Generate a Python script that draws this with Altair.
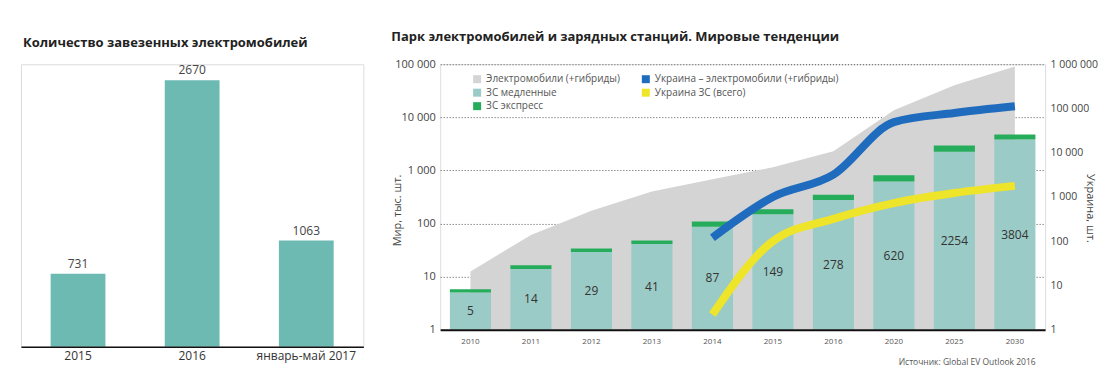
import altair as alt
import pandas as pd

# ---------------- data ----------------
left_cats = ["2015", "2016", "январь-май 2017"]
left_vals = [731, 2670, 1063]

years = ["2010", "2011", "2012", "2013", "2014", "2015", "2016", "2020", "2025", "2030"]
ev_world = [12.5, 61, 175, 400, 680, 1150, 2300, 13600, 40000, 91000]   # тыс. шт.
cs_slow = [5, 14, 29, 41, 87, 149, 278, 620, 2254, 3804]              # тыс. шт.
cs_express = [0.8, 2.3, 5, 7, 22, 37, 70, 190, 690, 930]               # тыс. шт.

ua_years = ["2014", "2015", "2016", "2020", "2025", "2030"]
ua_ev = [120, 1000, 3200, 49000, 79000, 112000]                        # шт.
ua_cs = [2.2, 100, 320, 730, 1230, 1780]                               # шт.

S_EV = "Электромобили (+гибриды)"
S_UA_EV = "Украина – электромобили (+гибриды)"
S_SLOW = "ЗС медленные"
S_UA_CS = "Украина ЗС (всего)"
S_FAST = "ЗС экспресс"

# legend fills column by column: 3 entries in the first column, 2 in the second
series_order = [S_EV, S_SLOW, S_FAST, S_UA_EV, S_UA_CS]
series_colors = ["#d4d4d4", "#9bcbc6", "#25ad5b", "#1f6cbf", "#eee42a"]

FONT = "Open Sans"

# ---------------- left chart ----------------
left_df = pd.DataFrame({"cat": left_cats, "val": left_vals,
                        "lab": [str(v) for v in left_vals]})

lx = alt.X("cat:N", sort=left_cats,
           scale=alt.Scale(paddingInner=0.52, paddingOuter=0.26),
           axis=alt.Axis(title=None, labelAngle=0, ticks=False, labelFontSize=12,
                         labelColor="#333", domainColor="#111", domainWidth=1.5,
                         labelPadding=4, zindex=1))
ly = alt.Y("val:Q", scale=alt.Scale(domain=[0, 2830], nice=False), axis=None)

lbars = alt.Chart(left_df).mark_bar(color="#6dbab2").encode(x=lx, y=ly)
ltext = alt.Chart(left_df).mark_text(dy=-10, fontSize=12, color="#444").encode(
    x=lx, y=ly, text="lab:N")

left = alt.layer(lbars, ltext).properties(
    width=343, height=283,
    title=alt.TitleParams("Количество завезенных электромобилей", anchor="start",
                          fontSize=13, fontWeight="bold", color="#222", offset=14,
                          frame="group", dx=2))

# ---------------- right chart ----------------
world = pd.DataFrame({"year": years, "ev": ev_world, "slow": cs_slow,
                      "label": [str(v) for v in cs_slow], "series": S_EV})
bars_df = pd.DataFrame({
    "year": years * 2,
    "series": [S_SLOW] * len(years) + [S_FAST] * len(years),
    "lo": [1] * len(years) + cs_slow,
    "hi": cs_slow + [s + e for s, e in zip(cs_slow, cs_express)],
})
ua_df = pd.DataFrame({
    "year": ua_years * 2,
    "series": [S_UA_EV] * len(ua_years) + [S_UA_CS] * len(ua_years),
    "val": ua_ev + ua_cs,
})

label_expr = "replace(replace(format(datum.value, ','), ',', ' '), ',', ' ')"

rx = alt.X("year:N", sort=years,
           scale=alt.Scale(paddingInner=0.32, paddingOuter=0.16),
           axis=alt.Axis(labelAngle=0, ticks=False, labelFontSize=8, labelColor="#555",
                         domainColor="#111", domainWidth=2, labelPadding=8, zindex=1,
                         title="Источник: Global EV Outlook 2016", titleFontSize=8.5,
                         titleFontWeight="normal", titleColor="#555",
                         titleAnchor="end", titleAlign="right", titleX=596, titleY=32,
                         titleBaseline="middle"))

lscale = alt.Scale(type="log", domain=[1, 100000], nice=False)
laxis = alt.Axis(orient="left", values=[1, 10, 100, 1000, 10000, 100000],
                 labelExpr=label_expr, grid=True, gridDash=[1, 2], gridColor="#555",
                 gridWidth=1, domain=False, ticks=False, labelFontSize=11,
                 labelColor="#444", labelPadding=5, title="Мир, тыс. шт.",
                 titleFontSize=11, titleFontWeight="normal", titleColor="#444",
                 titleX=-43, titleY=146, titleBaseline="middle")

rscale = alt.Scale(type="log", domain=[1, 1000000], nice=False)
raxis = alt.Axis(orient="right", values=[1, 10, 100, 1000, 10000, 100000, 1000000],
                 labelExpr=label_expr, grid=False, domain=False, ticks=False,
                 labelFontSize=10.5, labelColor="#444", labelPadding=5,
                 title="Украина, шт.", titleFontSize=11, titleFontWeight="normal",
                 titleColor="#444", titleX=44, titleY=144, titleBaseline="middle")

cscale = alt.Scale(domain=series_order, range=series_colors)
legend = alt.Legend(orient="none", legendX=32, legendY=10, columns=2, title=None,
                    symbolType="square", symbolSize=64, symbolStrokeWidth=0,
                    labelFontSize=10, labelColor="#555", labelLimit=400, rowPadding=3.5,
                    columnPadding=20, labelOffset=4, padding=0)

area = alt.Chart(world).mark_area(interpolate="linear").encode(
    x=rx,
    y=alt.Y("ev:Q", scale=lscale, axis=laxis),
    y2=alt.datum(1),
    color=alt.Color("series:N", scale=cscale, legend=legend),
)

bars = alt.Chart(bars_df).mark_bar().encode(
    x=rx,
    y=alt.Y("hi:Q", scale=lscale, axis=laxis),
    y2="lo:Q",
    color=alt.Color("series:N", scale=cscale, legend=None),
)

btext = alt.Chart(world).transform_calculate(mid="sqrt(datum.slow)").mark_text(
    fontSize=12, color="#333").encode(
    x=rx,
    y=alt.Y("mid:Q", scale=lscale, axis=laxis),
    text="label:N",
)

lines = alt.Chart(ua_df).mark_line(strokeWidth=8, interpolate="monotone",
                                   strokeCap="butt").encode(
    x=rx,
    y=alt.Y("val:Q", scale=rscale, axis=raxis),
    color=alt.Color("series:N", scale=cscale, legend=None),
)

right = alt.layer(alt.layer(area, bars, btext), lines).resolve_scale(
    y="independent").properties(
    width=606, height=266,
    title=alt.TitleParams("Парк электромобилей и зарядных станций. Мировые тенденции",
                          anchor="start", fontSize=13, fontWeight="bold", color="#222",
                          offset=14, frame="bounds"))

chart = alt.hconcat(left, right, spacing=26).resolve_scale(
    color="independent").resolve_legend(color="independent").properties(
    padding={"left": 12, "top": 22, "right": 0, "bottom": 0},
    background="white",
).configure_view(stroke=None).configure(font=FONT)

chart.save("out.html", embed_options={"renderer": "svg", "actions": False})
